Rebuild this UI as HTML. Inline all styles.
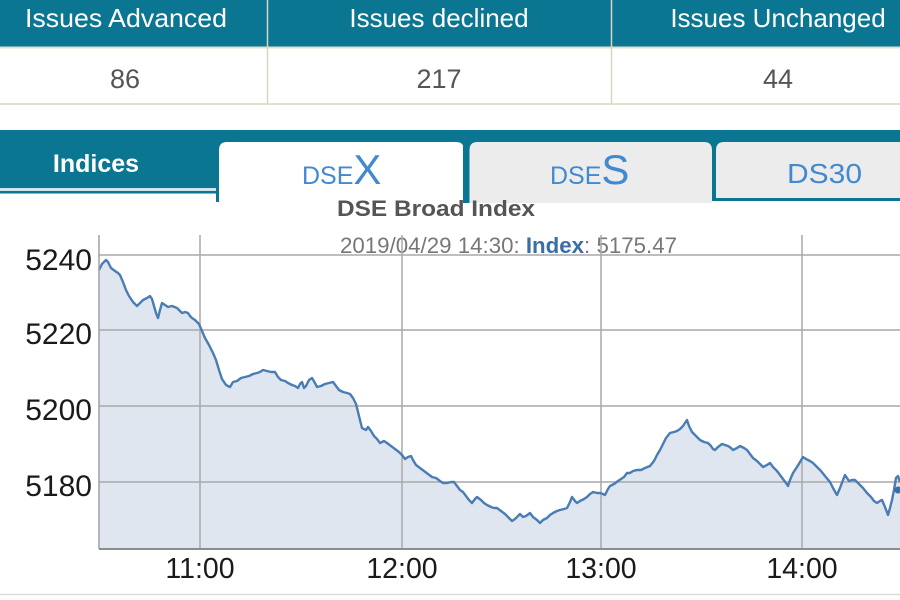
<!DOCTYPE html>
<html>
<head>
<meta charset="utf-8">
<style>
html,body{margin:0;padding:0;background:#fff;}
body{width:900px;height:600px;overflow:hidden;}
svg{display:block;font-family:"Liberation Sans",Arial,sans-serif;}
</style>
</head>
<body>
<svg width="900" height="600" viewBox="0 0 900 600" xmlns="http://www.w3.org/2000/svg">
  <!-- top stats table -->
  <rect x="0" y="0" width="900" height="47" fill="#0b7692"/>
  <rect x="0" y="47" width="900" height="57" fill="#ffffff"/>
  <line x1="0" y1="47.5" x2="900" y2="47.5" stroke="#e4e0c8" stroke-width="2"/>
  <line x1="0" y1="104" x2="900" y2="104" stroke="#e4e0c8" stroke-width="2"/>
  <line x1="267.5" y1="0" x2="267.5" y2="104" stroke="#d9d6bf" stroke-width="1.5"/>
  <line x1="611.5" y1="0" x2="611.5" y2="104" stroke="#d9d6bf" stroke-width="1.5"/>
  <text x="126" y="27" font-size="26" fill="#ffffff" text-anchor="middle" textLength="202" lengthAdjust="spacingAndGlyphs">Issues Advanced</text>
  <text x="439" y="27" font-size="26" fill="#ffffff" text-anchor="middle">Issues declined</text>
  <text x="778" y="27" font-size="26" fill="#ffffff" text-anchor="middle">Issues Unchanged</text>
  <text x="125" y="88" font-size="27" fill="#555555" text-anchor="middle">86</text>
  <text x="439" y="88" font-size="27" fill="#555555" text-anchor="middle">217</text>
  <text x="778" y="88" font-size="27" fill="#555555" text-anchor="middle">44</text>

  <!-- tabs -->
  <rect x="0" y="130" width="900" height="20" fill="#0b7692"/>
  <rect x="0" y="130" width="219" height="58" fill="#0b7692"/>
  <rect x="0" y="188" width="217" height="3" fill="#cfe3ea"/>
  <rect x="0" y="191" width="219" height="2.5" fill="#0b7692"/>
  <rect x="216" y="130" width="3.5" height="72" fill="#0b7692"/>
  <text x="96" y="172" font-size="25" font-weight="bold" fill="#ffffff" text-anchor="middle">Indices</text>

  <!-- DSEX tab (active) -->
  <path d="M219,210 L219,150 Q219,142 227,142 L456,142 Q464,142 464,150 L464,210 Z" fill="#ffffff"/>
  <rect x="463" y="130" width="6.5" height="73" fill="#0b7692"/>
  <text x="302" y="184" font-size="25" fill="#4289cf">DSE<tspan font-size="42">X</tspan></text>

  <!-- DSES tab -->
  <path d="M469.5,203 L469.5,150 Q469.5,142 477.5,142 L704,142 Q712,142 712,150 L712,203 Z" fill="#ececec"/>
  <rect x="712" y="130" width="4" height="71" fill="#0b7692"/>
  <text x="550" y="184" font-size="25" fill="#4289cf">DSE<tspan font-size="42">S</tspan></text>

  <!-- DS30 tab -->
  <path d="M716,198 L716,150 Q716,142 724,142 L900,142 L900,198 Z" fill="#ececec"/>
  <rect x="716" y="198" width="184" height="3" fill="#0b7692"/>
  <text x="787" y="183" font-size="28" fill="#4289cf" textLength="75" lengthAdjust="spacingAndGlyphs">DS30</text>

  <!-- chart title -->
  <text x="337" y="216" font-size="22" font-weight="bold" fill="#555555" textLength="198" lengthAdjust="spacingAndGlyphs">DSE Broad Index</text>
  <text x="340" y="253" font-size="22" fill="#777777" textLength="337" lengthAdjust="spacingAndGlyphs">2019/04/29 14:30: <tspan font-weight="bold" fill="#3a6ea5">Index</tspan>: 5175.47</text>

  <!-- series fill -->
  <polygon fill="#dfe6ef" points="99,549 99,270 102,264 106,260 108,262 111,268 115,271 118,273 120,275 123,282 126,290 129,296 133,302 137,306 140,303 143,300 147,298 150,296 152,299 154,306 156,313 158,318 160,310 162,303 165,305 168,307 172,306 177,308 180,311 182,313 185,312 188,313 190,316 192,318 195,320 199,324 202,331 205,338 209,345 213,353 216,360 219,370 222,379 226,385 230,387 233,382 237,381 241,378 245,377 249,376 253,374 257,373 260,372 263,370 267,371 271,372 275,372 278,377 281,380 285,381 288,383 292,385 295,386 298,388 300,384 302,382 304,388 306,386 309,380 312,378 315,383 317,387 321,386 325,384 329,383 333,382 336,386 339,390 343,392 347,393 350,394 353,398 356,404 358,412 360,420 362,428 366,430 368,427 371,431 374,436 377,439 380,443 384,441 387,443 391,446 395,449 399,452 402,455 405,459 408,457 411,456 413,460 416,465 420,468 424,471 428,474 432,477 436,478 440,481 443,483 447,483 451,482 454,482 457,486 460,490 463,492 466,496 469,500 472,503 475,499 477,497 481,500 484,503 487,505 491,507 494,508 497,508 501,511 505,514 508,517 512,521 515,519 518,516 520,514 523,517 526,516 530,513 533,517 537,520 540,523 543,520 547,518 550,515 553,513 557,511 560,510 564,509 567,508 570,502 572,497 575,501 577,503 580,501 584,499 587,497 590,494 593,492 597,493 600,493 603,494 605,495 608,489 610,486 614,484 618,481 621,479 624,477 627,473 630,473 633,471 637,470 641,470 645,468 650,466 654,461 657,455 660,450 663,444 666,438 670,433 674,432 677,431 680,429 683,426 685,423 687,420 689,426 692,432 696,436 700,440 704,442 708,443 711,446 713,449 715,450 718,447 722,444 725,445 728,446 731,448 733,450 737,448 740,446 744,448 747,450 750,454 753,458 757,461 760,464 763,467 767,465 770,463 773,467 777,471 780,475 783,479 786,483 788,486 790,480 793,473 797,467 800,462 803,457 806,459 810,461 813,463 817,467 821,471 825,476 830,482 833,488 837,495 840,488 843,480 845,475 847,478 849,481 852,480 855,480 859,484 863,488 867,493 871,497 874,501 877,503 880,501 882,500 885,507 888,515 890,508 892,500 894,490 896,478 898,476 900,482 900,549"/>

  <!-- grid (on top of fill) -->
  <g stroke="#a9a9a9" stroke-width="1.5">
    <line x1="99" y1="255" x2="900" y2="255"/>
    <line x1="99" y1="330" x2="900" y2="330"/>
    <line x1="99" y1="406" x2="900" y2="406"/>
    <line x1="99" y1="482" x2="900" y2="482"/>
    <line x1="200" y1="235" x2="200" y2="549"/>
    <line x1="402" y1="235" x2="402" y2="549"/>
    <line x1="601" y1="235" x2="601" y2="549"/>
    <line x1="802" y1="235" x2="802" y2="549"/>
  </g>

  <!-- series line -->
  <polyline fill="none" stroke="#4a7db4" stroke-width="2.4" stroke-linejoin="round" points="99,270 102,264 106,260 108,262 111,268 115,271 118,273 120,275 123,282 126,290 129,296 133,302 137,306 140,303 143,300 147,298 150,296 152,299 154,306 156,313 158,318 160,310 162,303 165,305 168,307 172,306 177,308 180,311 182,313 185,312 188,313 190,316 192,318 195,320 199,324 202,331 205,338 209,345 213,353 216,360 219,370 222,379 226,385 230,387 233,382 237,381 241,378 245,377 249,376 253,374 257,373 260,372 263,370 267,371 271,372 275,372 278,377 281,380 285,381 288,383 292,385 295,386 298,388 300,384 302,382 304,388 306,386 309,380 312,378 315,383 317,387 321,386 325,384 329,383 333,382 336,386 339,390 343,392 347,393 350,394 353,398 356,404 358,412 360,420 362,428 366,430 368,427 371,431 374,436 377,439 380,443 384,441 387,443 391,446 395,449 399,452 402,455 405,459 408,457 411,456 413,460 416,465 420,468 424,471 428,474 432,477 436,478 440,481 443,483 447,483 451,482 454,482 457,486 460,490 463,492 466,496 469,500 472,503 475,499 477,497 481,500 484,503 487,505 491,507 494,508 497,508 501,511 505,514 508,517 512,521 515,519 518,516 520,514 523,517 526,516 530,513 533,517 537,520 540,523 543,520 547,518 550,515 553,513 557,511 560,510 564,509 567,508 570,502 572,497 575,501 577,503 580,501 584,499 587,497 590,494 593,492 597,493 600,493 603,494 605,495 608,489 610,486 614,484 618,481 621,479 624,477 627,473 630,473 633,471 637,470 641,470 645,468 650,466 654,461 657,455 660,450 663,444 666,438 670,433 674,432 677,431 680,429 683,426 685,423 687,420 689,426 692,432 696,436 700,440 704,442 708,443 711,446 713,449 715,450 718,447 722,444 725,445 728,446 731,448 733,450 737,448 740,446 744,448 747,450 750,454 753,458 757,461 760,464 763,467 767,465 770,463 773,467 777,471 780,475 783,479 786,483 788,486 790,480 793,473 797,467 800,462 803,457 806,459 810,461 813,463 817,467 821,471 825,476 830,482 833,488 837,495 840,488 843,480 845,475 847,478 849,481 852,480 855,480 859,484 863,488 867,493 871,497 874,501 877,503 880,501 882,500 885,507 888,515 890,508 892,500 894,490 896,478 898,476 900,482"/>
  <circle cx="898" cy="490" r="3.5" fill="#3a6ea5"/>

  <!-- axes -->
  <line x1="99" y1="235" x2="99" y2="549" stroke="#a0a0a0" stroke-width="1.5"/>
  <line x1="99" y1="549" x2="900" y2="549" stroke="#8c8c8c" stroke-width="2"/>

  <!-- y labels -->
  <g font-size="30" fill="#1a1a1a" text-anchor="end">
    <text x="92" y="270">5240</text>
    <text x="92" y="344">5220</text>
    <text x="92" y="420">5200</text>
    <text x="92" y="496">5180</text>
  </g>
  <!-- x labels -->
  <g font-size="28.5" fill="#1a1a1a" text-anchor="middle">
    <text x="200" y="578">11:00</text>
    <text x="402" y="578">12:00</text>
    <text x="601" y="578">13:00</text>
    <text x="802" y="578">14:00</text>
  </g>

  <line x1="0" y1="594.5" x2="900" y2="594.5" stroke="#dcdcdc" stroke-width="1.5"/>
</svg>
</body>
</html>
